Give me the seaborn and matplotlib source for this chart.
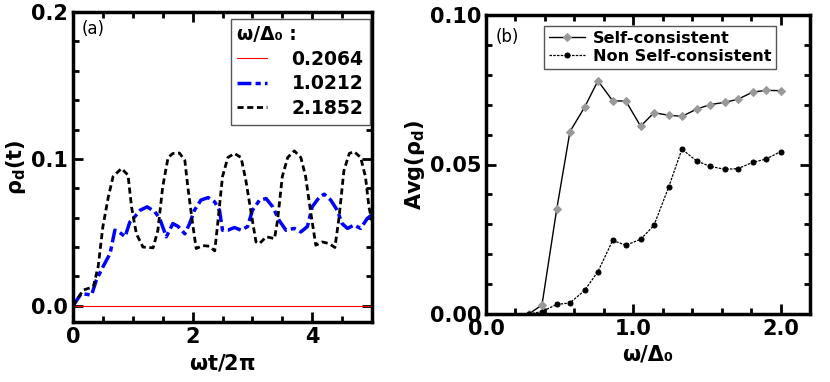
import numpy as np
import pandas as pd
import matplotlib
matplotlib.use("Agg")
import matplotlib.pyplot as plt
import seaborn as sns
from matplotlib.ticker import MultipleLocator

sns.set_style("ticks")
plt.rcParams['font.family'] = ['DejaVu Sans']
plt.rcParams['mathtext.fontset'] = 'dejavusans'
plt.rcParams['text.color'] = 'black'
plt.rcParams['axes.labelcolor'] = 'black'
plt.rcParams['axes.edgecolor'] = 'black'
plt.rcParams['xtick.color'] = 'black'
plt.rcParams['ytick.color'] = 'black'

# (a) 시간에 따른 rho_d(t), 그림에서 읽은 값
t_red = [0.0, 5.0]
rho_red = [0.0, 0.0]

t_blue = [0.0, 0.14, 0.31, 0.39, 0.50, 0.62, 0.70, 0.78, 0.87, 0.95, 1.03, 1.12, 1.24, 1.37,
          1.45, 1.56, 1.67, 1.76, 1.87, 1.95, 2.03, 2.14, 2.26, 2.37, 2.45, 2.50, 2.59, 2.70,
          2.81, 2.92, 3.00, 3.12, 3.23, 3.34, 3.45, 3.56, 3.70, 3.81, 3.92, 4.00, 4.12, 4.20,
          4.31, 4.42, 4.50, 4.59, 4.70, 4.81, 4.92, 5.00]
rho_blue = [0.0, 0.0084, 0.0073, 0.0175, 0.0265, 0.0356, 0.0515, 0.050, 0.047, 0.057, 0.0605,
            0.065, 0.0674, 0.064, 0.0594, 0.047, 0.056, 0.054, 0.049, 0.056, 0.065, 0.072,
            0.0737, 0.0707, 0.065, 0.0515, 0.0515, 0.0533, 0.0515, 0.054, 0.065, 0.072, 0.073,
            0.0674, 0.058, 0.0515, 0.0527, 0.0503, 0.054, 0.0674, 0.074, 0.076, 0.072, 0.065,
            0.056, 0.0527, 0.055, 0.0527, 0.0594, 0.062]

t_black = [0.0, 0.17, 0.34, 0.42, 0.50, 0.59, 0.67, 0.81, 0.92, 0.98, 1.06, 1.17, 1.34, 1.42,
           1.50, 1.59, 1.67, 1.78, 1.87, 1.92, 2.00, 2.06, 2.17, 2.28, 2.37, 2.42, 2.50, 2.59,
           2.70, 2.81, 2.89, 2.98, 3.06, 3.12, 3.23, 3.37, 3.42, 3.50, 3.59, 3.70, 3.81, 3.89,
           3.97, 4.06, 4.17, 4.28, 4.38, 4.45, 4.53, 4.62, 4.70, 4.81, 4.89, 4.95, 5.00]
rho_black = [0.0, 0.0107, 0.013, 0.0265, 0.054, 0.074, 0.088, 0.0935, 0.089, 0.067, 0.049,
             0.040, 0.0395, 0.0515, 0.081, 0.101, 0.1037, 0.104, 0.099, 0.081, 0.056, 0.039,
             0.041, 0.0406, 0.0374, 0.056, 0.088, 0.101, 0.1037, 0.101, 0.0855, 0.063, 0.0435,
             0.0424, 0.047, 0.0458, 0.058, 0.088, 0.101, 0.1055, 0.101, 0.088, 0.065, 0.0413,
             0.0435, 0.0424, 0.0397, 0.0605, 0.092, 0.1037, 0.105, 0.101, 0.088, 0.067, 0.058]

# (b) 평균 rho_d
omega = [0.29, 0.38, 0.48, 0.57, 0.67, 0.76, 0.86, 0.95, 1.05, 1.14, 1.24, 1.33, 1.43, 1.52,
         1.62, 1.71, 1.81, 1.90, 2.00]
avg_sc = [0.0, 0.003, 0.035, 0.061, 0.0692, 0.078, 0.0713, 0.0712, 0.0628, 0.0673, 0.0665,
          0.0661, 0.0685, 0.070, 0.0708, 0.0718, 0.0742, 0.0748, 0.0747]
avg_nsc = [0.0, 0.0008, 0.0032, 0.0037, 0.0079, 0.0142, 0.0246, 0.023, 0.025, 0.0296, 0.0424,
           0.0551, 0.0512, 0.0494, 0.0484, 0.0486, 0.0507, 0.0518, 0.0543]

fig = plt.figure(figsize=(8.3, 3.82), dpi=100)
ax1 = fig.add_axes([73/830, 1-322/382, (372-73)/830, (322-12)/382])
ax2 = fig.add_axes([486/830, 1-314/382, (810-486)/830, (314-15)/382])

sns.lineplot(x=t_red, y=rho_red, ax=ax1, color='red', linewidth=0.8, label='0.2064',
             estimator=None, sort=False)
sns.lineplot(x=t_blue, y=rho_blue, ax=ax1, color='blue', linewidth=2.5, label='1.0212',
             estimator=None, sort=False)
sns.lineplot(x=t_black, y=rho_black, ax=ax1, color='black', linewidth=2.0, label='2.1852',
             estimator=None, sort=False)
ax1.lines[1].set_linestyle((0, (4, 1.2, 1.5, 1.2)))
ax1.lines[2].set_linestyle((0, (2.2, 1.3)))

sns.lineplot(x=omega, y=avg_sc, ax=ax2, color='black', linewidth=1.0, marker='D',
             markersize=3.8, markerfacecolor='#999999', markeredgecolor='#999999',
             label='Self-consistent', estimator=None, sort=False)
sns.lineplot(x=omega, y=avg_nsc, ax=ax2, color='black', linewidth=0.9, linestyle=(0, (2, 1)),
             marker='o', markersize=3.6, markerfacecolor='black', markeredgecolor='black',
             label='Non Self-consistent', estimator=None, sort=False)

for ax in (ax1, ax2):
    for s in ax.spines.values():
        s.set_linewidth(2.5)
        s.set_color('black')
    ax.tick_params(which='both', direction='in', top=True, right=True, width=2,
                   labelsize=15, colors='black')
    ax.tick_params(which='major', length=7)
    ax.tick_params(which='minor', length=4)

ax1.set_xlim(0, 5)
ax1.set_ylim(-0.011, 0.2)
ax1.xaxis.set_minor_locator(MultipleLocator(0.5))
ax1.yaxis.set_minor_locator(MultipleLocator(0.02))
ax1.set_xticks([0, 2, 4])
ax1.set_xticklabels(['0', '2', '4'], fontweight='bold', fontsize=15)
ax1.set_yticks([0.0, 0.1, 0.2])
ax1.set_yticklabels(['0.0', '0.1', '0.2'], fontweight='bold', fontsize=15)
ax1.set_xlabel(r'ωt/2$\mathbf{\pi}$', fontsize=15, fontweight='bold')
ax1.set_ylabel(r'ρ$_\mathbf{d}$(t)', fontsize=15, fontweight='bold', labelpad=2)
ax1.text(0.03, 0.93, '(a)', transform=ax1.transAxes, fontsize=12)
leg1 = ax1.legend(title='ω/Δ₀ :', loc='upper right', bbox_to_anchor=(1.0, 0.985),
                  prop={'weight': 'bold', 'size': 13.5}, handlelength=1.6,
                  fancybox=False, edgecolor='#555555', framealpha=1, borderaxespad=0.1,
                  borderpad=0.35, labelspacing=0.3, handletextpad=1.3)
leg1.get_title().set_fontweight('bold')
leg1.get_title().set_fontsize(13.5)
leg1._legend_box.align = 'left'
leg1.get_frame().set_linewidth(1)

ax2.set_xlim(0, 2.2)
ax2.set_ylim(0, 0.1)
ax2.xaxis.set_minor_locator(MultipleLocator(0.2))
ax2.yaxis.set_minor_locator(MultipleLocator(0.01))
ax2.set_xticks([0.0, 1.0, 2.0])
ax2.set_xticklabels(['0.0', '1.0', '2.0'], fontweight='bold', fontsize=15)
ax2.set_yticks([0.0, 0.05, 0.1])
ax2.set_yticklabels(['0.00', '0.05', '0.10'], fontweight='bold', fontsize=15)
ax2.set_xlabel('ω/Δ₀', fontsize=15, fontweight='bold')
ax2.set_ylabel(r'Avg(ρ$_\mathbf{d}$)', fontsize=15, fontweight='bold', labelpad=2)
ax2.text(0.03, 0.91, '(b)', transform=ax2.transAxes, fontsize=12)
leg2 = ax2.legend(loc='upper right', bbox_to_anchor=(0.92, 0.99),
                  prop={'weight': 'bold', 'size': 11.6}, handlelength=2.2, numpoints=1,
                  fancybox=False, edgecolor='#555555', framealpha=1,
                  borderpad=0.3, labelspacing=0.2, handletextpad=0.5)
leg2.get_frame().set_linewidth(1)

fig.savefig('out.png', dpi=100)
